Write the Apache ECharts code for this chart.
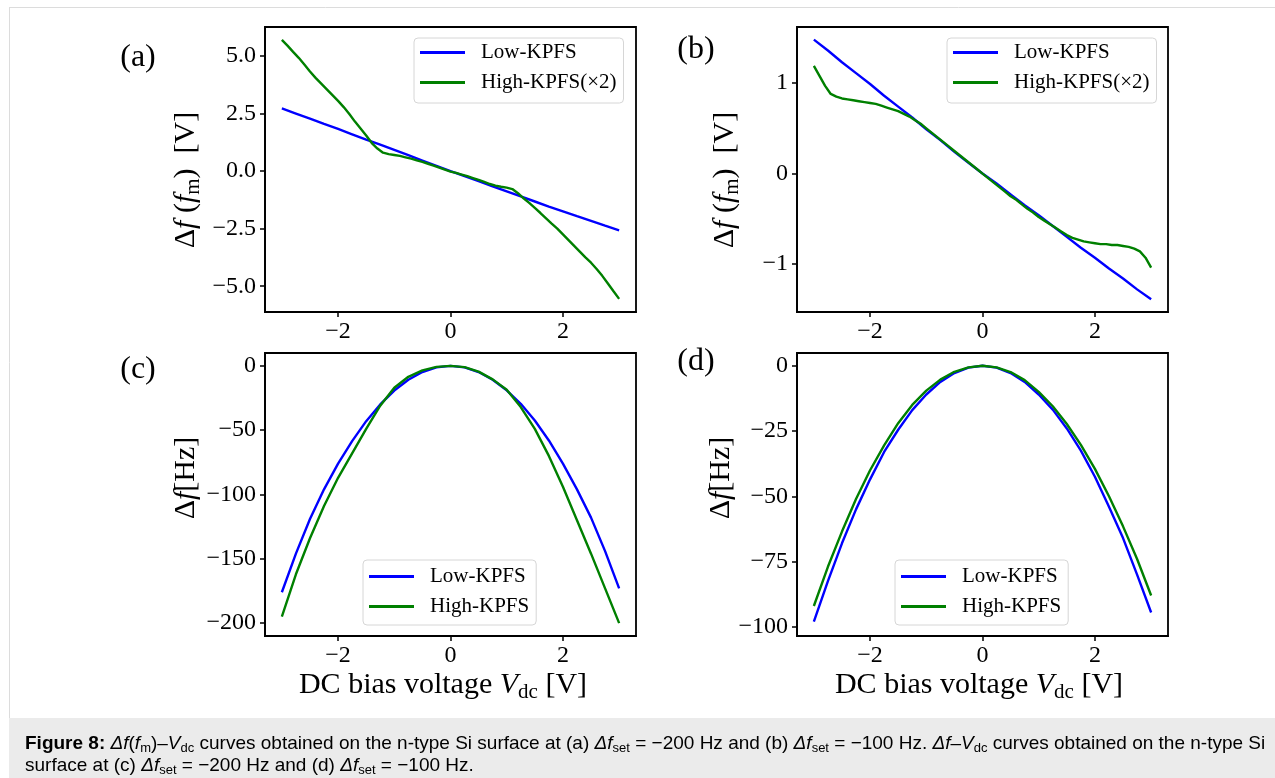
<!DOCTYPE html>
<html>
<head>
<meta charset="utf-8">
<script src="https://cdn.jsdelivr.net/npm/echarts@6/dist/echarts.min.js"></script>
<style>
html,body{margin:0;padding:0;background:#fff;}
#chart{width:1275px;height:778px;}
</style>
</head>
<body>
<div id="chart"></div>
<script>
// ---- data ----
var XS10 = [-3.0,-2.9,-2.8,-2.7,-2.6,-2.5,-2.4,-2.3,-2.2,-2.1,-2.0,-1.9,-1.8,-1.7,-1.6,-1.5,-1.4,-1.3,-1.2,-1.1,-1.0,-0.9,-0.8,-0.7,-0.6,-0.5,-0.4,-0.3,-0.2,-0.1,0.0,0.1,0.2,0.3,0.4,0.5,0.6,0.7,0.8,0.9,1.0,1.1,1.2,1.3,1.4,1.5,1.6,1.7,1.8,1.9,2.0,2.1,2.2,2.3,2.4,2.5,2.6,2.7,2.8,2.9,3.0];
var XS25 = [-3,-2.75,-2.5,-2.25,-2,-1.75,-1.5,-1.25,-1,-0.75,-0.5,-0.25,0,0.25,0.5,0.75,1,1.25,1.5,1.75,2,2.25,2.5,2.75,3];

// (a) Δf(fm) [V], Δf_set = -200 Hz
var LOW_A = [2.72,2.50,2.28,2.05,1.83,1.60,1.37,1.15,0.92,0.69,0.46,0.23,0.0,-0.22,-0.44,-0.66,-0.88,-1.10,-1.32,-1.54,-1.75,-1.96,-2.16,-2.37,-2.57];
var HIGH_A = [5.70,5.45,5.18,4.92,4.63,4.33,4.05,3.80,3.55,3.30,3.05,2.78,2.48,2.15,1.85,1.55,1.22,0.98,0.80,0.74,0.70,0.66,0.60,0.54,0.47,0.40,0.32,0.24,0.15,0.06,-0.02,-0.08,-0.15,-0.22,-0.30,-0.38,-0.47,-0.56,-0.63,-0.68,-0.72,-0.78,-0.96,-1.18,-1.38,-1.60,-1.82,-2.05,-2.28,-2.50,-2.75,-3.00,-3.25,-3.50,-3.75,-3.98,-4.25,-4.55,-4.88,-5.22,-5.55];

// (b) Δf(fm) [V], Δf_set = -100 Hz
var LOW_B = [1.48,1.36,1.23,1.11,0.99,0.86,0.74,0.62,0.49,0.37,0.24,0.12,0.0,-0.11,-0.23,-0.35,-0.46,-0.58,-0.70,-0.82,-0.93,-1.05,-1.16,-1.28,-1.39];
var HIGH_B = [1.19,1.08,0.97,0.88,0.85,0.83,0.82,0.81,0.80,0.79,0.78,0.77,0.75,0.73,0.71,0.69,0.66,0.63,0.59,0.55,0.50,0.45,0.40,0.35,0.30,0.25,0.20,0.15,0.10,0.05,0.00,-0.05,-0.10,-0.15,-0.20,-0.25,-0.29,-0.34,-0.39,-0.43,-0.48,-0.52,-0.56,-0.60,-0.64,-0.68,-0.71,-0.73,-0.75,-0.76,-0.77,-0.78,-0.78,-0.79,-0.79,-0.80,-0.81,-0.83,-0.86,-0.93,-1.04];

// (c) Δf [Hz], Δf_set = -200 Hz
var LOW_C = [-176,-146,-119,-96,-76,-58.5,-43,-30,-19.2,-10.8,-4.8,-1.2,0,-1.2,-4.8,-10.8,-19,-29.5,-42.5,-58,-76,-96,-118,-144,-173];
var HIGH_C = [-195,-162,-134,-109,-87,-68,-49,-31,-17,-8.5,-3.5,-0.8,0,-1,-4.5,-10.5,-18.5,-32,-49,-70,-94,-120,-146,-173,-200];

// (d) Δf [Hz], Δf_set = -100 Hz
var LOW_D = [-98,-82.5,-68,-55,-43.5,-33,-24.5,-17,-11,-6.2,-2.8,-0.7,0,-0.7,-2.8,-6.2,-11,-16.8,-24,-32.5,-42.5,-54,-66,-80,-94.5];
var HIGH_D = [-92,-77,-63.5,-51,-40,-30.5,-22,-15,-9.5,-5.3,-2.3,-0.6,0,-0.6,-2.4,-5.5,-10,-15.5,-22.3,-30.3,-39.5,-50,-61.5,-74,-88];

var X_TICKS = [-2, 0, 2];
var Y_TICKS_A = [-5, -2.5, 0, 2.5, 5];
var Y_TICKS_B = [-1, 0, 1];
var Y_TICKS_C = [-200, -150, -100, -50, 0];
var Y_TICKS_D = [-100, -75, -50, -25, 0];

var NAME_LOW = 'Low-KPFS';
var NAME_HIGH2 = 'High-KPFS(×2)';
var NAME_HIGH = 'High-KPFS';

// ---- chart ----
var SERIF = "'Liberation Serif', 'DejaVu Serif', serif";
var SANS = "'Liberation Sans', Arial, sans-serif";
var BLUE = '#0000ff', GREEN = '#008000';

function pairs(xs, ys){ return xs.map(function(x,i){ return [x, ys[i]]; }); }
function minusFmt(dec){
  return function(v){
    var s = Math.abs(v).toFixed(dec);
    return (v < 0 ? '\u2212' : '') + s;
  };
}

var grids = [
  {left:265, top:27, width:371, height:285},
  {left:797, top:27, width:371, height:285},
  {left:265, top:353, width:371, height:283},
  {left:797, top:353, width:371, height:283}
];
grids.forEach(function(g){ g.show = true; g.borderColor = '#000'; g.borderWidth = 1.8; g.backgroundColor = 'transparent'; g.containLabel = false; });

function xAx(idx){
  return {
    type:'value', gridIndex: idx, min:-3.3, max:3.3,
    splitLine:{show:false},
    axisLine:{show:true, onZero:false, lineStyle:{color:'#000', width:1.8}},
    axisTick:{show:true, customValues: X_TICKS, length:5, lineStyle:{color:'#000', width:1.5}},
    axisLabel:{show:true, customValues: X_TICKS, formatter: minusFmt(0), margin:8,
      fontFamily: SERIF, fontSize:24, color:'#000'}
  };
}
function yAx(idx, min, max, ticks, dec){
  return {
    type:'value', gridIndex: idx, min:min, max:max,
    splitLine:{show:false},
    axisLine:{show:true, onZero:false, lineStyle:{color:'#000', width:1.8}},
    axisTick:{show:true, customValues: ticks, length:5, lineStyle:{color:'#000', width:1.5}},
    axisLabel:{show:true, customValues: ticks, formatter: minusFmt(dec), margin:9,
      fontFamily: SERIF, fontSize:24, color:'#000'}
  };
}

function lineSeries(name, idx, data, color){
  return {
    type:'line', name:name, xAxisIndex:idx, yAxisIndex:idx, data:data,
    symbol:'none', showSymbol:false, smooth:false, silent:true, animation:false,
    lineStyle:{color:color, width:2.4}, itemStyle:{color:color}
  };
}

function legendAt(left, top, names, pad){
  return {
    orient:'vertical', left:left, top:top, data:names,
    icon:'rect',
    padding: pad, itemGap:9, itemWidth:45, itemHeight:3,
    backgroundColor:'rgba(255,255,255,0.85)', borderColor:'#d6d6d6', borderWidth:1, borderRadius:4,
    selectedMode:false,
    textStyle:{fontFamily:SERIF, fontSize:21, color:'#000', padding:[0,0,0,11]}
  };
}

var mathRich = function(fs){
  return {
    n:{fontFamily:SERIF, fontSize:fs, color:'#000'},
    i:{fontFamily:SERIF, fontSize:fs, fontStyle:'italic', color:'#000'},
    s:{fontFamily:SERIF, fontSize:Math.round(fs*0.7), color:'#000', padding:[Math.round(fs*0.45),0,0,0]}
  };
};
var capRich = {
  n:{fontFamily:SANS, fontSize:19, color:'#000'},
  b:{fontFamily:SANS, fontSize:19, fontWeight:'bold', color:'#000'},
  i:{fontFamily:SANS, fontSize:19, fontStyle:'italic', color:'#000'},
  s:{fontFamily:SANS, fontSize:13, color:'#000', padding:[9,0,0,0]}
};
var labRich = {n:{fontFamily:SERIF, fontSize:32, color:'#000'}};

function txt(x, y, text, rich, rot){
  var el = {type:'text', x:x, y:y, silent:true,
    style:{text:text, rich:rich, align:'center', verticalAlign:'middle', textAlign:'center', textVerticalAlign:'middle'}};
  if (rot) el.rotation = rot;
  return el;
}
function txtLeft(x, y, text, rich){
  return {type:'text', x:x, y:y, silent:true,
    style:{text:text, rich:rich, align:'left', verticalAlign:'middle', textAlign:'left', textVerticalAlign:'middle'}};
}

var yTitleV = '{n|Δ}{i|f}{n| (}{i|f}{s|m}{n|)  [V]}';
var yTitleHz = '{n|Δ}{i|f}{n|[Hz]}';
var xTitle = '{n|DC bias voltage }{i|V}{s|dc}{n| [V]}';
var cap1 = '{b|Figure 8:}{n| }{i|Δf}{n|(}{i|f}{s|m}{n|)–}{i|V}{s|dc}{n| curves obtained on the n-type Si surface at (a) }{i|Δf}{s|set}{n| = −200 Hz and (b) }{i|Δf}{s|set}{n| = −100 Hz. }{i|Δf}{n|–}{i|V}{s|dc}{n| curves obtained on the n-type Si}';
var cap2 = '{n|surface at (c) }{i|Δf}{s|set}{n| = −200 Hz and (d) }{i|Δf}{s|set}{n| = −100 Hz.}';

var option = {
  animation:false,
  backgroundColor:'#fff',
  grid: grids,
  xAxis: [xAx(0), xAx(1), xAx(2), xAx(3)],
  yAxis: [
    yAx(0, -6.12, 6.26, Y_TICKS_A, 1),
    yAx(1, -1.53, 1.62, Y_TICKS_B, 0),
    yAx(2, -210, 10, Y_TICKS_C, 0),
    yAx(3, -103.5, 4.9, Y_TICKS_D, 0)
  ],
  legend: [
    legendAt(414, 38, [NAME_LOW, NAME_HIGH2], [4,7,10,6]),
    legendAt(947, 38, [NAME_LOW, NAME_HIGH2], [4,7,10,6]),
    legendAt(363, 560, [NAME_LOW, NAME_HIGH], [6,7,8,6]),
    legendAt(895, 560, [NAME_LOW, NAME_HIGH], [6,7,8,6])
  ],
  series: [
    lineSeries(NAME_LOW, 0, pairs(XS25, LOW_A), BLUE),
    lineSeries(NAME_HIGH2, 0, pairs(XS10, HIGH_A), GREEN),
    lineSeries(NAME_LOW, 1, pairs(XS25, LOW_B), BLUE),
    lineSeries(NAME_HIGH2, 1, pairs(XS10, HIGH_B), GREEN),
    lineSeries(NAME_LOW, 2, pairs(XS25, LOW_C), BLUE),
    lineSeries(NAME_HIGH, 2, pairs(XS25, HIGH_C), GREEN),
    lineSeries(NAME_LOW, 3, pairs(XS25, LOW_D), BLUE),
    lineSeries(NAME_HIGH, 3, pairs(XS25, HIGH_D), GREEN)
  ],
  graphic: [
    {type:'line', silent:true, shape:{x1:9, y1:7.5, x2:1275, y2:7.5}, style:{stroke:'#dcdcdc', lineWidth:1}},
    {type:'line', silent:true, shape:{x1:9.5, y1:7, x2:9.5, y2:718}, style:{stroke:'#dcdcdc', lineWidth:1}},
    {type:'rect', silent:true, shape:{x:9, y:718, width:1266, height:60}, style:{fill:'#ebebeb'}},
    txt(138, 58, '{n|(a)}', labRich),
    txt(696, 50, '{n|(b)}', labRich),
    txt(138, 370, '{n|(c)}', labRich),
    txt(696, 362, '{n|(d)}', labRich),
    txt(186, 180, yTitleV, mathRich(30), Math.PI/2),
    txt(725, 180, yTitleV, mathRich(30), Math.PI/2),
    txt(186, 478, yTitleHz, mathRich(30), Math.PI/2),
    txt(721, 478, yTitleHz, mathRich(30), Math.PI/2),
    txt(443, 685, xTitle, mathRich(30)),
    txt(979, 685, xTitle, mathRich(30)),
    txtLeft(25, 744, cap1, capRich),
    txtLeft(25, 766, cap2, capRich)
  ]
};

var chart = echarts.init(document.getElementById('chart'), null, {renderer:'canvas', width:1275, height:778});
chart.setOption(option);
</script>
</body>
</html>
